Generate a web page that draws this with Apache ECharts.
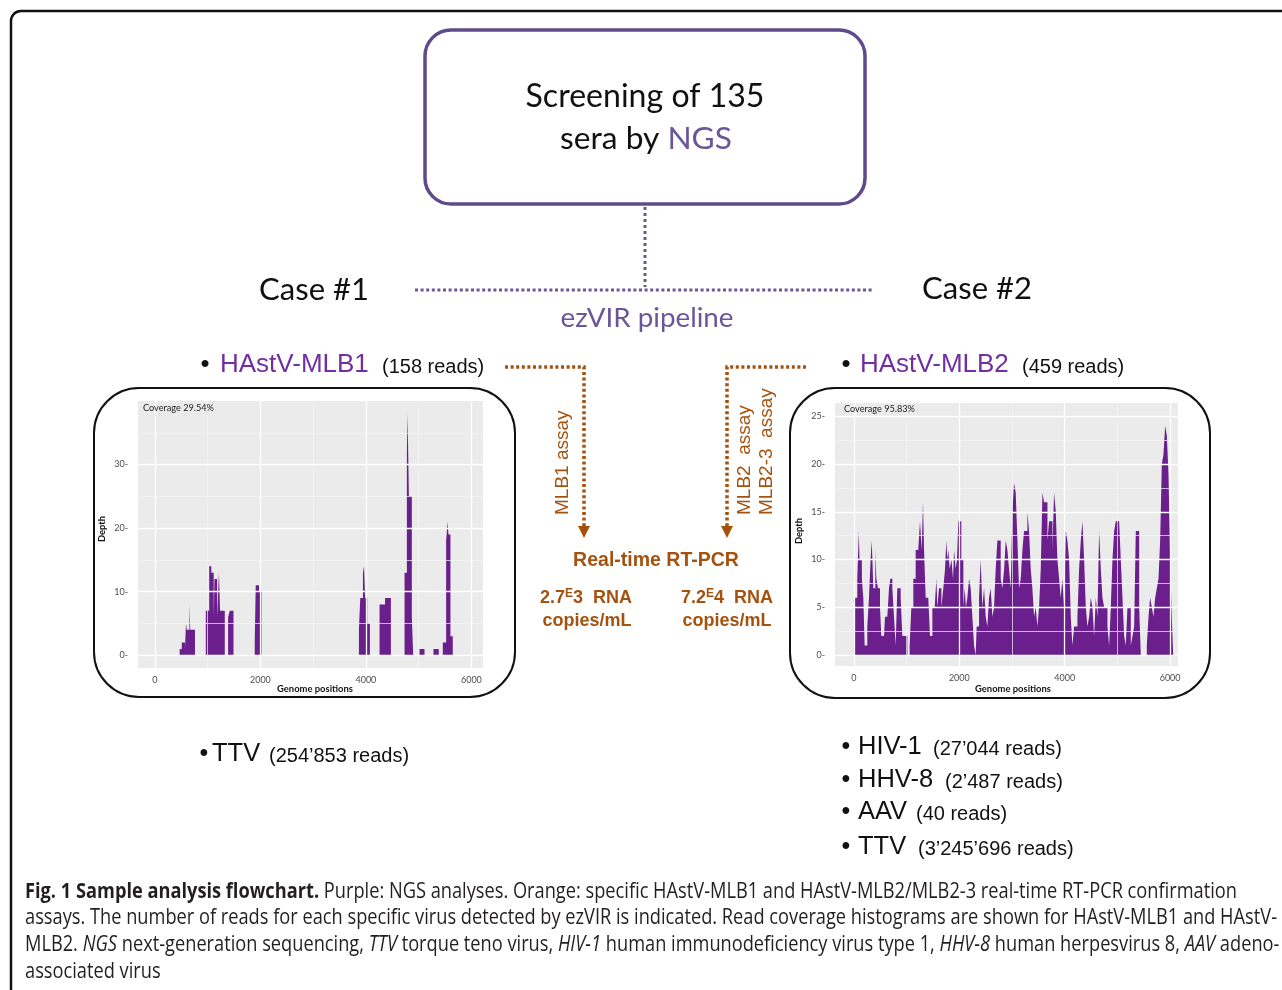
<!DOCTYPE html>
<html><head><meta charset="utf-8">
<script src="https://cdn.jsdelivr.net/npm/echarts@6/dist/echarts.min.js"></script>
<style>html,body{margin:0;padding:0;background:#fff}#c{width:1282px;height:990px}</style>
</head><body><div id="c"></div>
<script>
// ---------------- data ----------------
const case1Pos   = [0, 470, 510, 570, 590, 605, 655, 670, 760, 965, 1030, 1070, 1115, 1130, 1180, 1215, 1235, 1325, 1388, 1420, 1490, 1893, 1912, 1975, 2020, 3868, 3893, 3944, 3965, 3985, 4026, 4076, 4259, 4363, 4474, 4733, 4777, 4790, 4815, 4871, 4897, 5017, 5111, 5281, 5382, 5458, 5521, 5550, 5565, 5603, 5647];
const case1Depth = [0, 1, 2, 1, 5, 4, 8, 4, 0, 7, 14, 13, 6, 12, 6, 13, 7, 0, 6, 7, 0, 2, 11, 10, 0, 4, 9, 13, 14, 9, 5, 0, 8, 9, 0, 13, 32, 38, 25, 6, 0, 1, 0, 1, 0, 2, 18, 21, 19, 3, 0];

const case2Pos = [0, 20, 63, 92, 105, 150, 177, 203, 253, 285, 316, 335, 350, 367, 405, 425, 456, 494, 519, 570, 589, 633, 665, 690, 728, 760, 791, 823, 855, 886, 918, 1013,
  1057, 1089, 1127, 1171, 1220, 1253, 1285, 1310, 1330, 1361, 1410, 1443, 1488, 1532, 1564, 1583, 1614, 1659, 1696, 1728, 1753, 1772, 1791, 1817, 1850, 1880, 1900, 1931, 1955, 1981, 2013, 2038, 2076, 2102, 2125, 2152, 2184, 2215, 2247, 2279, 2310,
  2329, 2374, 2405, 2437, 2469, 2500, 2532, 2563, 2595, 2627, 2659, 2690, 2722, 2754, 2785, 2817, 2850, 2880, 2912, 2943, 2975, 3007, 3038, 3070, 3102, 3133, 3165, 3197, 3228, 3260, 3292, 3323, 3355, 3386, 3418, 3450, 3481, 3513, 3545, 3577, 3608, 3640, 3672, 3703, 3735, 3767, 3798, 3830, 3861, 3893, 3925, 3956, 3988, 4020, 4051, 4083, 4115, 4146, 4178, 4210, 4241, 4273, 4305, 4336, 4368, 4400, 4431, 4463, 4495, 4526, 4558, 4590, 4621, 4653, 4685, 4716, 4748, 4780, 4811, 4843, 4875, 4906, 4938, 4970, 5001, 5033, 5064, 5096, 5128, 5159, 5191, 5223, 5254, 5286, 5318, 5349, 5381, 5413, 5444,
  5558, 5590, 5621, 5653, 5685, 5716, 5748, 5780, 5811, 5843, 5874, 5906, 5938, 5969, 6001, 6026, 6058];
const case2Depth = [3, 6, 8, 13, 10, 8, 6, 1, 3, 6, 10, 12, 10, 7, 11, 8, 7, 5, 2, 2, 4, 4, 7, 8, 7, 4, 1, 7, 7, 6, 2, 0,
  1, 5, 8, 11, 11, 14, 11, 16, 11, 6, 6, 2, 5, 5, 8, 5, 7, 5, 7, 9, 12, 10, 11, 9, 10, 8, 11, 9, 10, 14, 14, 10, 5, 7, 5, 6, 8, 7, 4, 1, 0,
  3, 6, 10, 5, 7, 4, 3, 6, 7, 4, 5, 9, 12, 12, 8, 7, 9, 12, 11, 9, 7, 15, 18, 17, 12, 7, 8, 11, 13, 13, 15, 13, 9, 7, 4, 5, 3, 5, 9, 17, 16, 16, 12, 14, 14, 11, 17, 15, 10, 8, 6, 8, 5, 13, 12, 10, 4, 1, 3, 3, 4, 9, 12, 14, 10, 5, 3, 4, 6, 5, 2, 6, 4, 13, 9, 6, 5, 5, 3, 1, 5, 10, 13, 14, 14, 14, 10, 6, 2, 1, 5, 5, 1, 2, 3, 13, 13, 5, 0,
  1, 4, 6, 5, 4, 6, 7, 8, 12, 20, 21, 24, 23, 19, 10, 5, 0];

const xTicks  = [0, 2000, 4000, 6000];
const xMinor  = [1000, 3000, 5000];
const yTicks1 = [0, 10, 20, 30];
const yMinor1 = [5, 15, 25, 35];
const yTicks2 = [0, 5, 10, 15, 20, 25];
const yMinor2 = [2.5, 7.5, 12.5, 17.5, 22.5];

// ---------------- styles ----------------
const BAR = '#6a1f8c';
const PTXT = '#7030a0';
const PMUTED = '#6a5699';
const BOXP = '#5f4b8b';
const OR = '#a5520f';
const CAL = 'Lato';
const ARI = 'Liberation Sans';

const cv = document.createElement('canvas').getContext('2d');
function tw(text, font) { cv.font = font; return cv.measureText(text).width; }
function fit(text, fam, weight, target, base) {
  base = base || 30;
  return base * target / tw(text, weight + ' ' + base + 'px ' + fam);
}

function T(x, y, text, st, el) {
  const a = (st && st.align) || 'left';
  const s = Object.assign({ text: text, fill: '#111', fontFamily: ARI, fontSize: 20, fontWeight: 'normal' }, st || {});
  s.align = a; s.textAlign = a; s.verticalAlign = 'middle'; s.textVerticalAlign = 'middle';
  return Object.assign({ type: 'text', x: x, y: y, silent: true, z: 10, style: s }, el || {});
}

const els = [];
// outer frame
els.push({ type: 'rect', shape: { x: 11, y: 11, width: 1300, height: 1010, r: 10 }, style: { fill: 'none', stroke: '#111', lineWidth: 2.5 }, silent: true });
// top box
els.push({ type: 'rect', shape: { x: 425, y: 30, width: 440, height: 174, r: 26 }, style: { fill: 'none', stroke: BOXP, lineWidth: 3.5 }, silent: true });
const fsScr = fit('Screening of 135', CAL, 'normal', 239);
els.push(T(645, 97, 'Screening of 135', { fontFamily: CAL, fontSize: fsScr, align: 'center' }));
const fsSera = fit('sera by NGS', CAL, 'normal', 172);
els.push(T(646, 139, '{k|sera by }{p|NGS}', { fontFamily: CAL, fontSize: fsSera, align: 'center',
  rich: { k: { fontFamily: CAL, fontSize: fsSera, fill: '#111' }, p: { fontFamily: CAL, fontSize: fsSera, fill: PMUTED } } }));
// purple dotted connectors
els.push({ type: 'line', shape: { x1: 645, y1: 207, x2: 645, y2: 287 }, style: { stroke: PMUTED, lineWidth: 3, lineDash: [3, 3] }, silent: true });
els.push({ type: 'line', shape: { x1: 415, y1: 290, x2: 873, y2: 290 }, style: { stroke: PMUTED, lineWidth: 3, lineDash: [3, 2.6] }, silent: true });
const fsCase = fit('Case #1', CAL, 'normal', 110);
els.push(T(314, 290, 'Case #1', { fontFamily: CAL, fontSize: fsCase, align: 'center' }));
els.push(T(977, 289, 'Case #2', { fontFamily: CAL, fontSize: fsCase, align: 'center' }));
const fsEz = fit('ezVIR pipeline', CAL, 'normal', 173);
els.push(T(647, 318, 'ezVIR pipeline', { fontFamily: CAL, fontSize: fsEz, align: 'center', fill: PMUTED }));

// virus headers
els.push(T(205, 365, '•', { fontSize: 26, align: 'center' }));
els.push(T(220, 365, 'HAstV-MLB1', { fontSize: 26, fill: PTXT }));
els.push(T(382, 367, '(158 reads)', { fontSize: 20 }));
els.push(T(846, 365, '•', { fontSize: 26, align: 'center' }));
els.push(T(860, 365, 'HAstV-MLB2', { fontSize: 26, fill: PTXT }));
els.push(T(1022, 367, '(459 reads)', { fontSize: 20 }));

// orange assay arrows
els.push({ type: 'polyline', shape: { points: [[505, 367], [584, 367], [584, 526]] }, style: { fill: 'none', stroke: OR, lineWidth: 3.5, lineDash: [3, 2.6] }, silent: true });
els.push({ type: 'polygon', shape: { points: [[578, 526], [590, 526], [584, 538]] }, style: { fill: OR }, silent: true });
els.push({ type: 'polyline', shape: { points: [[806, 367], [727, 367], [727, 526]] }, style: { fill: 'none', stroke: OR, lineWidth: 3.5, lineDash: [3, 2.6] }, silent: true });
els.push({ type: 'polygon', shape: { points: [[721, 526], [733, 526], [727, 538]] }, style: { fill: OR }, silent: true });
els.push(T(563, 515, 'MLB1 assay', { fontSize: 19, fill: OR }, { rotation: Math.PI / 2 }));
els.push(T(745, 515, 'MLB2  assay', { fontSize: 19, fill: OR }, { rotation: Math.PI / 2 }));
els.push(T(767, 515, 'MLB2-3  assay', { fontSize: 19, fill: OR }, { rotation: Math.PI / 2 }));
els.push(T(656, 561, 'Real-time RT-PCR', { fontSize: 19.5, fontWeight: 'bold', fill: OR, align: 'center' }));
const qrich = { n: { fontFamily: ARI, fontSize: 18, fontWeight: 'bold', fill: OR, lineHeight: 20 },
                s: { fontFamily: ARI, fontSize: 12, fontWeight: 'bold', fill: OR, lineHeight: 12, verticalAlign: 'top' } };
els.push(T(586, 598, '{n|2.7}{s|E}{n|3  RNA}', { fontSize: 18, fontWeight: 'bold', fill: OR, align: 'center', rich: qrich }));
els.push(T(587, 621, 'copies/mL', { fontSize: 18, fontWeight: 'bold', fill: OR, align: 'center' }));
els.push(T(727, 598, '{n|7.2}{s|E}{n|4  RNA}', { fontSize: 18, fontWeight: 'bold', fill: OR, align: 'center', rich: qrich }));
els.push(T(727, 621, 'copies/mL', { fontSize: 18, fontWeight: 'bold', fill: OR, align: 'center' }));

// histogram frames
els.push({ type: 'rect', shape: { x: 94, y: 388, width: 421, height: 309, r: 45 }, style: { fill: 'none', stroke: '#111', lineWidth: 2 }, silent: true });
els.push({ type: 'rect', shape: { x: 790, y: 388, width: 420, height: 310, r: 45 }, style: { fill: 'none', stroke: '#111', lineWidth: 2 }, silent: true });
const fsCov = fit('Coverage 29.54%', CAL, 'normal', 71, 10);
els.push(T(143, 408, 'Coverage 29.54%', { fontFamily: CAL, fontSize: fsCov, fill: '#222' }));
els.push(T(844, 409, 'Coverage 95.83%', { fontFamily: CAL, fontSize: fsCov, fill: '#222' }));
const fsGen = fit('Genome positions', CAL, 'bold', 76, 10);
els.push(T(315, 689, 'Genome positions', { fontFamily: CAL, fontSize: fsGen, fontWeight: 'bold', align: 'center' }));
els.push(T(1013, 689, 'Genome positions', { fontFamily: CAL, fontSize: fsGen, fontWeight: 'bold', align: 'center' }));
els.push(T(102, 529, 'Depth', { fontFamily: CAL, fontSize: fsGen, fontWeight: 'bold', align: 'center' }, { rotation: Math.PI / 2 }));
els.push(T(799, 531, 'Depth', { fontFamily: CAL, fontSize: fsGen, fontWeight: 'bold', align: 'center' }, { rotation: Math.PI / 2 }));

// other viruses
els.push(T(204, 754, '•', { fontSize: 25, align: 'center' }));
els.push(T(212, 754, 'TTV', { fontSize: 25.5 }));
els.push(T(269, 756, '(254’853 reads)', { fontSize: 20 }));
const rows = [['HIV-1', '(27’044 reads)', 747, 933], ['HHV-8', '(2’487 reads)', 780, 945], ['AAV', '(40 reads)', 812, 916], ['TTV', '(3’245’696 reads)', 847, 918]];
rows.forEach(r => {
  els.push(T(846, r[2], '•', { fontSize: 25, align: 'center' }));
  els.push(T(858, r[2], r[0], { fontSize: 25.5 }));
  els.push(T(r[3], r[2] + 2, r[1], { fontSize: 20 }));
});

// caption
const CF = 'Open Sans', CS = 21, CC = '#231f20';
const capLines = [
  [['b', 'Fig. 1 Sample analysis flowchart.'], ['n', ' Purple: NGS analyses. Orange: specific HAstV-MLB1 and HAstV-MLB2/MLB2-3 real-time RT-PCR confirmation']],
  [['n', 'assays. The number of reads for each specific virus detected by ezVIR is indicated. Read coverage histograms are shown for HAstV-MLB1 and HAstV-']],
  [['n', 'MLB2. '], ['i', 'NGS'], ['n', ' next-generation sequencing, '], ['i', 'TTV'], ['n', ' torque teno virus, '], ['i', 'HIV-1'], ['n', ' human immunodeficiency virus type 1, '], ['i', 'HHV-8'], ['n', ' human herpesvirus 8, '], ['i', 'AAV'], ['n', ' adeno-']],
  [['n', 'associated virus']]
];
const fontOf = k => (k === 'b' ? 'bold ' : k === 'i' ? 'italic ' : '') + CS + 'px "' + CF + '"';
const w2 = capLines[1].reduce((s, p) => s + tw(p[1], fontOf(p[0])), 0);
const capScale = 1252 / w2;
const capRich = {
  n: { fontFamily: CF, fontSize: CS, fill: CC },
  b: { fontFamily: CF, fontSize: CS, fill: CC, fontWeight: 'bold' },
  i: { fontFamily: CF, fontSize: CS, fill: CC, fontStyle: 'italic' }
};
const capY = [892, 918, 945, 972];
capLines.forEach((ln, i) => {
  const txt = ln.map(p => '{' + p[0] + '|' + p[1] + '}').join('');
  els.push(T(25, capY[i], txt, { fontFamily: CF, fontSize: CS, fill: CC, rich: capRich }, { scaleX: capScale }));
});

// ---------------- chart ----------------
const zip = (a, b) => a.map((v, i) => [v, b[i]]);
function gridSeries(idx, xs, ys, color, width) {
  return { type: 'line', xAxisIndex: idx, yAxisIndex: idx, data: [[0, 0]], showSymbol: false, symbol: 'none', lineStyle: { width: 0 }, silent: true, z: 1,
    markLine: { silent: true, symbol: ['none', 'none'], label: { show: false }, animation: false,
      lineStyle: { color: color, width: width, type: 'solid' },
      data: xs.map(v => ({ xAxis: v })).concat(ys.map(v => ({ yAxis: v }))) } };
}
function histSeries(idx, pos, dep) {
  return { type: 'line', xAxisIndex: idx, yAxisIndex: idx, step: 'end', data: zip(pos, dep), showSymbol: false, symbol: 'none',
    lineStyle: { width: 0 }, areaStyle: { color: BAR, opacity: 1 }, z: 3, silent: true };
}
const axLab = { fontFamily: CAL, fontSize: 9, color: '#4d4d4d' };
function xAx(idx, mn, mx) {
  return { gridIndex: idx, type: 'value', min: mn, max: mx, axisLine: { show: false }, axisTick: { show: false }, splitLine: { show: false },
    axisLabel: Object.assign({ margin: 8, formatter: v => xTicks.indexOf(v) >= 0 ? String(v) : '' }, axLab) };
}
function yAx(idx, mn, mx, ticks) {
  return { gridIndex: idx, type: 'value', min: mn, max: mx, axisLine: { show: false }, axisTick: { show: false }, splitLine: { show: false },
    axisLabel: Object.assign({ margin: 10, formatter: v => ticks.indexOf(v) >= 0 ? v + '-' : '' }, axLab) };
}

const chart = echarts.init(document.getElementById('c'), null, { renderer: 'canvas', width: 1282, height: 990 });
chart.setOption({
  backgroundColor: '#fff',
  animation: false,
  grid: [
    { left: 138, top: 401, width: 345, height: 267, show: true, backgroundColor: '#ebebeb', borderWidth: 0 },
    { left: 835, top: 403, width: 343, height: 263, show: true, backgroundColor: '#ebebeb', borderWidth: 0 }
  ],
  xAxis: [xAx(0, -320, 6220), xAx(1, -360, 6150)],
  yAxis: [yAx(0, -2, 40, yTicks1), yAx(1, -1.15, 26.4, yTicks2)],
  series: [
    gridSeries(0, xMinor, yMinor1, '#f5f5f5', 0.7),
    gridSeries(0, xTicks, yTicks1, '#ffffff', 1.3),
    histSeries(0, case1Pos, case1Depth),
    gridSeries(1, xMinor, yMinor2, '#f5f5f5', 0.7),
    gridSeries(1, xTicks, yTicks2, '#ffffff', 1.3),
    histSeries(1, case2Pos, case2Depth)
  ],
  graphic: { elements: els }
});
</script></body></html>
